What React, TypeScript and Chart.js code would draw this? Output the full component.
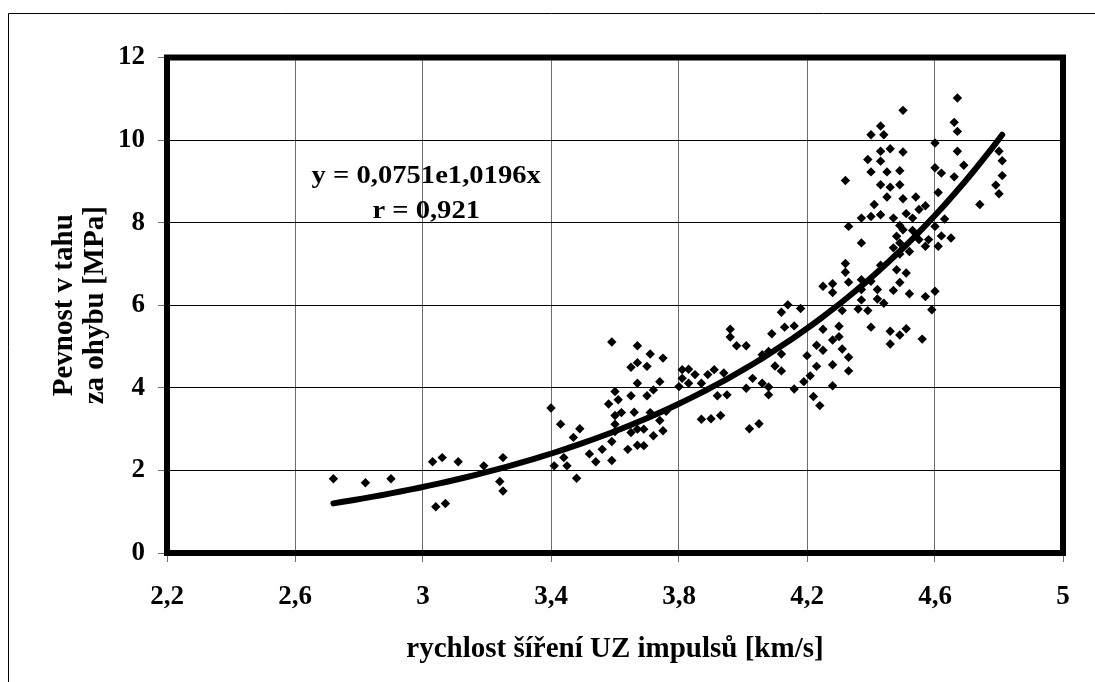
import React, { useEffect, useRef } from "react";
import { Chart, registerables } from "chart.js";

Chart.register(...registerables);

// ---- data ----
const xTicks = [2.2, 2.6, 3, 3.4, 3.8, 4.2, 4.6, 5];
const yTicks = [0, 2, 4, 6, 8, 10, 12];
const xTitle = "rychlost šíření UZ impulsů [km/s]";
const yTitle = ["Pevnost v tahu", "za ohybu [MPa]"];
const equationLines = ["y = 0,0751e1,0196x", "r = 0,921"];

// trend line: coefficients shown on the chart, drawn between these x limits
const trendA = 0.0751;
const trendB = 1.0196;
const trendFrom = 2.72;
const trendTo = 4.81;

const speedValues = [
  2.72, 2.82, 2.90, 3.03, 3.06, 3.11, 3.19, 3.25, 3.24, 3.25, 3.07, 3.04,
  3.40, 3.43, 3.49, 3.47, 3.44, 3.41, 3.45, 3.48, 3.52, 3.54, 3.56, 3.59, 3.59, 3.59, 3.58, 3.60,
  3.61, 3.62, 3.60, 3.60, 3.60, 3.65, 3.66, 3.65, 3.64, 3.67, 3.69, 3.69, 3.67, 3.72, 3.75, 3.74,
  3.71, 3.76, 3.70, 3.72, 3.67, 3.74, 3.65, 3.67, 3.70, 3.67, 3.71, 3.75,
  3.80, 3.81, 3.83, 3.85, 3.83, 3.81, 3.87, 3.89, 3.91, 3.94, 3.92, 3.95, 3.87, 3.90, 3.93, 3.96,
  3.96, 3.98, 4.01, 4.01, 4.03, 4.06, 4.08, 4.08, 4.02, 4.05, 4.06, 4.08, 4.10, 4.12, 4.12, 4.09,
  4.12, 4.14, 4.13, 4.16, 4.18, 4.16,
  4.20, 4.23, 4.25, 4.23, 4.21, 4.19, 4.28, 4.22, 4.24, 4.28, 4.25, 4.30, 4.28, 4.30, 4.31, 4.33,
  4.33, 4.25, 4.28, 4.28, 4.31, 4.32, 4.32, 4.33, 4.37, 4.36, 4.37, 4.39, 4.37, 4.40, 4.42, 4.42,
  4.44, 4.40, 4.37, 4.32, 4.33, 4.37, 4.40, 4.43, 4.41,
  4.50, 4.43, 4.40, 4.44, 4.43, 4.46, 4.50, 4.39, 4.43, 4.40, 4.45, 4.49, 4.43, 4.49, 4.46, 4.45,
  4.50, 4.54, 4.47, 4.51, 4.53, 4.55, 4.57, 4.49, 4.50, 4.48, 4.49, 4.53, 4.57, 4.55, 4.58, 4.47,
  4.49, 4.52, 4.43, 4.48, 4.51, 4.49, 4.47, 4.52, 4.46, 4.49, 4.51, 4.46, 4.56, 4.57, 4.60, 4.59,
  4.60, 4.60, 4.62, 4.66, 4.67, 4.66, 4.67, 4.67, 4.69, 4.61, 4.60, 4.63, 4.62, 4.65, 4.61, 4.80,
  4.81, 4.81, 4.79, 4.80, 4.74,
];

const strengthValues = [
  1.80, 1.70, 1.80, 2.21, 2.31, 2.21, 2.11, 2.31, 1.73, 1.50, 1.20, 1.12,
  3.51, 3.12, 3.01, 2.80, 2.31, 2.11, 2.11, 1.81, 2.40, 2.21, 2.51, 2.24, 2.70, 5.11, 3.61, 3.91,
  3.71, 3.40, 3.33, 2.94, 3.12, 3.81, 3.41, 2.92, 2.51, 3.00, 3.00, 2.60, 2.61, 2.84, 2.96, 3.21,
  3.40, 3.43, 3.81, 3.95, 4.11, 4.15, 4.50, 4.61, 4.52, 5.02, 4.82, 4.72,
  4.03, 4.44, 4.45, 4.32, 4.11, 4.23, 4.11, 4.32, 4.44, 4.36, 3.81, 3.83, 3.24, 3.25, 3.33, 5.42,
  5.23, 5.02, 5.02, 3.99, 4.23, 4.11, 4.02, 3.83, 3.01, 3.13, 4.80, 4.88, 4.53, 4.41, 4.82, 5.31,
  5.83, 6.01, 5.47, 5.50, 5.92, 3.97,
  4.78, 5.03, 4.91, 4.52, 4.29, 4.15, 4.05, 3.79, 3.57, 4.56, 5.42, 5.49, 5.16, 5.24, 4.94, 4.74,
  4.41, 6.46, 6.52, 6.31, 5.87, 7.01, 6.80, 6.56, 6.62, 5.91, 6.13, 5.87, 6.38, 6.58, 6.38, 6.15,
  6.05, 5.47, 7.51, 9.02, 7.91, 8.11, 8.15, 8.19, 8.44,
  10.72, 10.34, 10.13, 10.13, 9.73, 9.79, 9.71, 9.53, 9.49, 9.23, 9.23, 9.26, 8.92, 8.92, 8.86, 8.62,
  8.58, 8.62, 8.11, 8.22, 8.11, 8.32, 8.41, 7.93, 7.83, 7.67, 7.51, 7.81, 7.43, 7.59, 7.59, 7.39,
  7.24, 7.30, 6.97, 6.86, 6.78, 6.55, 6.36, 6.28, 5.37, 5.28, 5.43, 5.06, 5.18, 6.21, 6.34, 5.89,
  9.93, 9.33, 9.20, 9.11, 9.73, 10.43, 10.21, 11.02, 9.39, 8.73, 7.91, 8.09, 7.68, 7.63, 7.43, 9.73,
  9.50, 9.14, 8.91, 8.70, 8.44,
];

const SERIF = "'Liberation Serif', 'Times New Roman', serif";

const fmt = (v: number) => String(Math.round(v * 10) / 10).replace(".", ",");

const framePlugin = {
  id: "framePlugin",
  beforeDraw(chart: any) {
    const { ctx, width, height } = chart;
    ctx.save();
    ctx.fillStyle = "#ffffff";
    ctx.fillRect(0, 0, width, height);
    ctx.strokeStyle = "#000000";
    ctx.lineWidth = 1;
    ctx.beginPath();
    ctx.moveTo(8.5, height);
    ctx.lineTo(8.5, 13.5);
    ctx.lineTo(width, 13.5);
    ctx.stroke();
    ctx.restore();
  },
  afterDatasetsDraw(chart: any) {
    const { ctx, chartArea, scales } = chart;
    ctx.save();
    ctx.strokeStyle = "#000000";
    ctx.lineWidth = 6;
    ctx.lineJoin = "miter";
    ctx.strokeRect(
      chartArea.left,
      chartArea.top,
      chartArea.right - chartArea.left,
      chartArea.bottom - chartArea.top
    );
    // equation label anchored in data space
    const cx = scales.x.getPixelForValue(3.01);
    const cy1 = scales.y.getPixelForValue(9.12);
    const cy2 = scales.y.getPixelForValue(8.28);
    ctx.fillStyle = "#000000";
    ctx.font = `bold 26px ${SERIF}`;
    ctx.textAlign = "center";
    ctx.textBaseline = "middle";
    [cy1, cy2].forEach((cy, i) => {
      ctx.save();
      ctx.translate(cx, cy);
      ctx.scale(1.1, 1);
      ctx.fillText(equationLines[i], 0, 0);
      ctx.restore();
    });
    ctx.restore();
  },
};

export default function App() {
  const canvasRef = useRef<HTMLCanvasElement | null>(null);

  useEffect(() => {
    if (!canvasRef.current) return;
    const scatter = speedValues.map((x, i) => ({ x, y: strengthValues[i] }));
    const trend: { x: number; y: number }[] = [];
    const steps = 70;
    for (let k = 0; k <= steps; k++) {
      const x = trendFrom + ((trendTo - trendFrom) * k) / steps;
      trend.push({ x, y: trendA * Math.exp(trendB * x) });
    }

    const chart = new Chart(canvasRef.current, {
      type: "scatter",
      data: {
        datasets: [
          {
            label: "trend",
            data: trend,
            showLine: true,
            borderColor: "#000000",
            borderWidth: 6,
            borderCapStyle: "round",
            pointRadius: 0,
            tension: 0,
          } as any,
          {
            label: "data",
            data: scatter,
            pointStyle: "rectRot",
            pointRadius: 4.7,
            backgroundColor: "#000000",
            borderColor: "#000000",
            borderWidth: 0,
          } as any,
        ],
      },
      plugins: [framePlugin],
      options: {
        animation: false,
        responsive: false,
        devicePixelRatio: 1,
        layout: { padding: { left: 0, top: 57.5, right: 32, bottom: 0 } },
        plugins: {
          legend: { display: false },
          tooltip: { enabled: false },
        },
        scales: {
          x: {
            type: "linear",
            min: 2.2,
            max: 5,
            afterBuildTicks: (scale: any) => {
              scale.ticks = xTicks.map((v) => ({ value: v }));
            },
            afterFit: (scale: any) => {
              scale.height = 129;
            },
            grid: {
              color: "#6e6e6e",
              lineWidth: 1,
              tickLength: 9,
              drawTicks: true,
              tickColor: "#6e6e6e",
            },
            border: { display: false },
            ticks: {
              padding: 19,
              color: "#000000",
              font: { family: SERIF, size: 27, weight: "bold" },
              callback: (v: any) => fmt(Number(v)),
              maxRotation: 0,
              autoSkip: false,
            },
            title: {
              display: true,
              text: xTitle,
              color: "#000000",
              font: { family: SERIF, size: 29, weight: "bold" },
              padding: { top: 0, bottom: 15 },
            },
          },
          y: {
            type: "linear",
            min: 0,
            max: 12,
            afterBuildTicks: (scale: any) => {
              scale.ticks = yTicks.map((v) => ({ value: v }));
            },
            afterFit: (scale: any) => {
              scale.width = 167;
            },
            grid: {
              color: "#000000",
              lineWidth: 1,
              tickLength: 9,
              drawTicks: true,
              tickColor: "#6e6e6e",
            },
            border: { display: false },
            ticks: {
              padding: 13,
              color: "#000000",
              font: { family: SERIF, size: 27, weight: "bold" },
              callback: (v: any) => fmt(Number(v)),
              autoSkip: false,
            },
            title: {
              display: true,
              text: yTitle,
              color: "#000000",
              font: { family: SERIF, size: 29, weight: "bold", lineHeight: 1.08 },
              padding: { top: 49, bottom: 0 },
            },
          },
        },
      } as any,
    });
    return () => chart.destroy();
  }, []);

  return (
    <div style={{ position: "absolute", left: 0, top: 0, width: 1095, height: 682 }}>
      <canvas ref={canvasRef} width={1095} height={682} style={{ display: "block" }} />
    </div>
  );
}
